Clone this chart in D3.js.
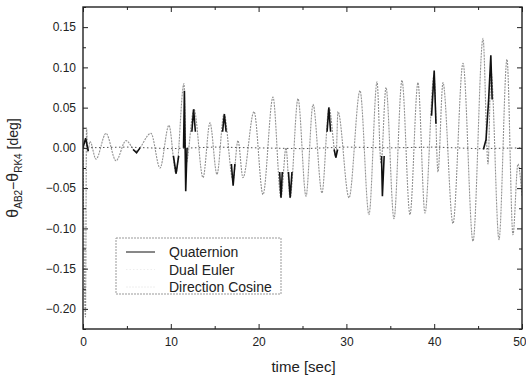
<!DOCTYPE html>
<html>
<head>
<meta charset="utf-8">
<script src="https://cdn.jsdelivr.net/npm/d3@7"></script>
<style>
  body { margin: 0; background: #fff; }
  svg { display: block; font-family: "Liberation Sans", Arial, sans-serif; }
  .axis text { font-size: 12px; fill: #222; }
  .axis line { stroke: #222; }
</style>
</head>
<body>
<div id="chart"></div>
<script>
// series: [time (sec), error (deg)]
const directionCosine = [
  [0.00, 0.000], [0.28, -0.210], [0.40, 0.025], [0.55, -0.005], [0.80, 0.008], [1.48, -0.014],
  [2.62, 0.018], [3.76, -0.016], [4.90, 0.009], [6.04, -0.004], [7.74, 0.018],
  [8.77, -0.025], [9.79, 0.028], [10.59, -0.032], [11.50, 0.080], [11.73, -0.020],
  [12.64, 0.048], [13.67, -0.037], [14.46, 0.031], [15.26, -0.033], [16.06, 0.042],
  [17.08, -0.040], [17.65, 0.009], [18.22, -0.037], [19.48, 0.045], [20.50, -0.058],
  [21.64, 0.063], [22.55, -0.062], [23.12, 0.000], [23.58, -0.062], [24.49, 0.061],
  [25.40, -0.060], [26.20, 0.054], [27.22, -0.056], [28.02, 0.050], [28.82, -0.012],
  [29.04, 0.045], [30.30, -0.062], [31.55, 0.071], [32.57, -0.083], [33.49, 0.082],
  [33.94, -0.020], [34.51, 0.075], [35.42, -0.088], [36.33, 0.084], [37.24, -0.083],
  [38.15, 0.081], [38.95, -0.081], [39.98, 0.090], [40.43, -0.030], [41.00, 0.081],
  [42.14, -0.094], [43.28, 0.105], [44.42, -0.116], [45.56, 0.136], [46.13, -0.020],
  [46.47, 0.095], [47.38, -0.114], [48.29, 0.110], [48.97, -0.108], [49.54, -0.020],
  [50.00, -0.060]
];

// black pieces only show where the solution jumps; null = gap
const quaternion = [
  [0.0, 0.000], [0.3, 0.012], [0.6, -0.004], null,
  [5.7, -0.002], [6.1, -0.006], [6.5, 0.000], null,
  [10.3, -0.010], [10.6, -0.032], [10.9, -0.010], null,
  [11.45, 0.000], [11.55, 0.071], [11.7, -0.054], [11.85, 0.000], null,
  [12.4, 0.020], [12.6, 0.048], [12.8, 0.020], null,
  [15.9, 0.020], [16.1, 0.042], [16.3, 0.020], null,
  [16.9, -0.020], [17.1, -0.047], [17.3, -0.020], null,
  [22.4, -0.030], [22.55, -0.062], [22.7, -0.030], null,
  [23.4, -0.030], [23.6, -0.062], [23.8, -0.030], null,
  [27.8, 0.020], [28.0, 0.050], [28.2, 0.020], null,
  [28.6, -0.002], [28.8, -0.012], [29.0, -0.002], null,
  [34.0, -0.010], [34.1, -0.060], [34.3, -0.010], null,
  [39.7, 0.040], [40.0, 0.096], [40.2, 0.030], null,
  [45.6, -0.002], [45.9, 0.010], [46.2, 0.060], [46.45, 0.115], [46.6, 0.060]
];

const dualEuler = [
  [0, 0.000], [5, 0.001], [10, -0.001], [15, 0.001], [20, 0.000], [25, -0.001],
  [30, 0.001], [35, 0.000], [40, 0.001], [45, -0.001], [50, 0.000]
];

const legendNames = ['Quaternion', 'Dual Euler', 'Direction Cosine'];
const xMajor = [0, 10, 20, 30, 40, 50];
const xMinor = [5, 15, 25, 35, 45];
const yMajor = [-0.20, -0.15, -0.10, -0.05, 0.00, 0.05, 0.10, 0.15];
const yMinor = [-0.225, -0.175, -0.125, -0.075, -0.025, 0.025, 0.075, 0.125, 0.175];

const W = 526, H = 379;
const margin = {top: 7, right: 4, bottom: 50, left: 83};

const svg = d3.select('#chart').append('svg')
  .attr('width', W)
  .attr('height', H);

const x = d3.scaleLinear().domain([0, 50]).range([margin.left, W - margin.right]);
const y = d3.scaleLinear().domain([-0.225, 0.175]).range([H - margin.bottom, margin.top]);

svg.append('defs').append('clipPath').attr('id', 'plot')
  .append('rect')
  .attr('x', margin.left).attr('y', margin.top)
  .attr('width', x.range()[1] - margin.left)
  .attr('height', y.range()[0] - margin.top);

// lines
const line = d3.line()
  .defined(d => d !== null)
  .x(d => x(d[0]))
  .y(d => y(d[1]));

const smooth = d3.line()
  .curve(d3.curveMonotoneX)
  .x(d => x(d[0]))
  .y(d => y(d[1]));

const plot = svg.append('g').attr('clip-path', 'url(#plot)');

plot.append('path')
  .datum(directionCosine)
  .attr('d', smooth)
  .attr('fill', 'none')
  .attr('stroke', '#929292')
  .attr('stroke-width', 1.1)
  .attr('stroke-dasharray', '2,1');

plot.append('path')
  .datum(dualEuler)
  .attr('d', line)
  .attr('fill', 'none')
  .attr('stroke', '#555')
  .attr('stroke-width', 1)
  .attr('stroke-dasharray', '1.5,2.5');

plot.append('path')
  .datum(quaternion)
  .attr('d', line)
  .attr('fill', 'none')
  .attr('stroke', '#111')
  .attr('stroke-width', 1.6);

// axes, ticks pointing inward
const bottom = H - margin.bottom;
const right = W - margin.right;

svg.append('g').attr('class', 'axis')
  .attr('transform', `translate(0,${bottom})`)
  .call(d3.axisBottom(x).tickValues(xMajor).tickSize(-5).tickPadding(8).tickFormat(d3.format('d')))
  .call(g => g.select('.domain').remove())
  .call(g => g.selectAll('.tick').filter(d => d === 50).select('text')
    .attr('text-anchor', 'end').attr('x', 4));
svg.append('g').attr('class', 'axis')
  .attr('transform', `translate(0,${bottom})`)
  .call(d3.axisBottom(x).tickValues(xMinor).tickSize(-3).tickFormat(''))
  .call(g => g.select('.domain').remove());
svg.append('g').attr('class', 'axis')
  .attr('transform', `translate(0,${margin.top})`)
  .call(d3.axisTop(x).tickValues(xMajor).tickSize(-5).tickFormat(''))
  .call(g => g.select('.domain').remove());
svg.append('g').attr('class', 'axis')
  .attr('transform', `translate(0,${margin.top})`)
  .call(d3.axisTop(x).tickValues(xMinor).tickSize(-3).tickFormat(''))
  .call(g => g.select('.domain').remove());

svg.append('g').attr('class', 'axis')
  .attr('transform', `translate(${margin.left},0)`)
  .call(d3.axisLeft(y).tickValues(yMajor).tickSize(-5).tickPadding(7).tickFormat(d3.format('.2f')))
  .call(g => g.select('.domain').remove());
svg.append('g').attr('class', 'axis')
  .attr('transform', `translate(${margin.left},0)`)
  .call(d3.axisLeft(y).tickValues(yMinor).tickSize(-3).tickFormat(''))
  .call(g => g.select('.domain').remove());
svg.append('g').attr('class', 'axis')
  .attr('transform', `translate(${right},0)`)
  .call(d3.axisRight(y).tickValues(yMajor).tickSize(-5).tickFormat(''))
  .call(g => g.select('.domain').remove());
svg.append('g').attr('class', 'axis')
  .attr('transform', `translate(${right},0)`)
  .call(d3.axisRight(y).tickValues(yMinor).tickSize(-3).tickFormat(''))
  .call(g => g.select('.domain').remove());

// frame
svg.append('rect')
  .attr('x', margin.left).attr('y', margin.top)
  .attr('width', right - margin.left)
  .attr('height', bottom - margin.top)
  .attr('fill', 'none')
  .attr('stroke', '#222')
  .attr('stroke-width', 1.4);

// axis titles
svg.append('text')
  .attr('x', (margin.left + right) / 2 + 1)
  .attr('y', 372)
  .attr('text-anchor', 'middle')
  .style('font-size', '15px')
  .attr('fill', '#222')
  .text('time [sec]');

const yTitle = svg.append('text')
  .attr('transform', 'translate(18,168) rotate(-90)')
  .attr('text-anchor', 'middle')
  .style('font-size', '14px')
  .attr('fill', '#222');
yTitle.append('tspan').style('font-size', '16px').text('θ');
yTitle.append('tspan').attr('dy', 4).style('font-size', '10px').text('AB2');
yTitle.append('tspan').attr('dy', -4).text('−');
yTitle.append('tspan').style('font-size', '16px').text('θ');
yTitle.append('tspan').attr('dy', 4).style('font-size', '10px').text('RK4');
yTitle.append('tspan').attr('dy', -4).text(' [deg]');

// legend
const lg = svg.append('g');
lg.append('rect')
  .attr('x', 116).attr('y', 238)
  .attr('width', 165).attr('height', 56)
  .attr('fill', '#fff')
  .attr('stroke', '#999')
  .attr('stroke-width', 1)
  .attr('stroke-dasharray', '2,1');

const legendStyles = [
  {stroke: '#111', dash: null},
  {stroke: '#eee', dash: '1.5,2'},
  {stroke: '#eee', dash: '2,1'}
];

legendNames.forEach((name, i) => {
  const cy = 252 + i * 17.5;
  lg.append('line')
    .attr('x1', 126).attr('x2', 155)
    .attr('y1', cy).attr('y2', cy)
    .attr('stroke', legendStyles[i].stroke)
    .attr('stroke-dasharray', legendStyles[i].dash);
  lg.append('text')
    .attr('x', 169).attr('y', cy + 5)
    .style('font-size', '14px')
    .attr('fill', '#222')
    .text(name);
});
</script>
</body>
</html>
